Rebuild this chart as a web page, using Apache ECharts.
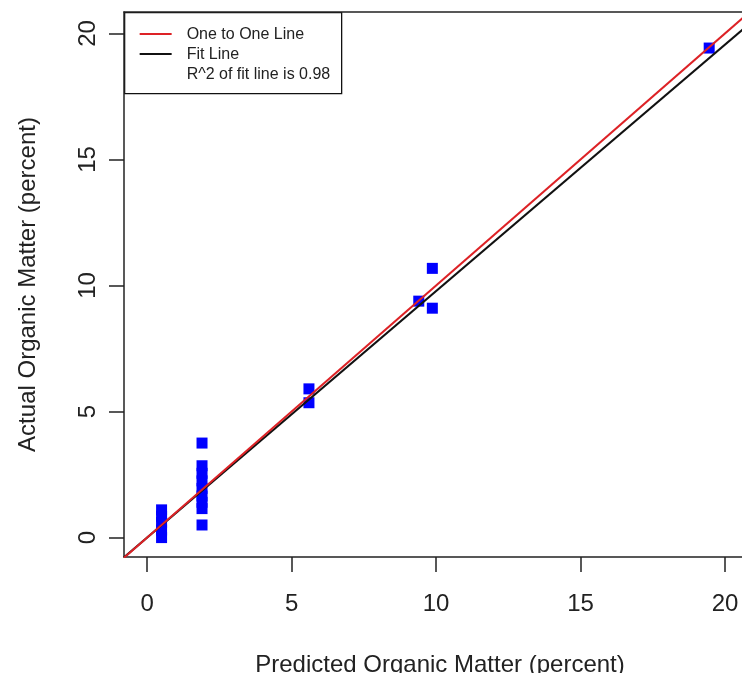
<!DOCTYPE html>
<html>
<head>
<meta charset="utf-8">
<script src="https://cdn.jsdelivr.net/npm/echarts@6/dist/echarts.min.js"></script>
<style>
html,body{margin:0;padding:0;background:#fff;}
#chart{width:742px;height:673px;}
</style>
</head>
<body>
<div id="chart"></div>
<script>
// ---- data ----
var predicted = [0.5, 0.5, 0.5, 0.5, 0.5,
                 1.9, 1.9, 1.9, 1.9, 1.9, 1.9, 1.9, 1.9, 1.9,
                 5.6, 5.6,
                 9.4, 9.87, 9.87,
                 19.45];
var actual    = [0.0, 0.3, 0.6, 0.85, 1.1,
                 3.75, 2.85, 2.55, 2.25, 1.95, 1.65, 1.4, 1.15, 0.5,
                 5.9, 5.35,
                 9.38, 10.68, 9.1,
                 19.42];
var xTicks = [0, 5, 10, 15, 20];
var yTicks = [0, 5, 10, 15, 20];
var fitIntercept = 0.0;
var fitSlope = 0.978;
var rSquared = 0.98;
var xLimits = [-0.8, 21.07];
var yLimits = [-0.77, 20.85];
var legendLabels = ['One to One Line', 'Fit Line', 'R^2 of fit line is ' + rSquared.toFixed(2)];

var points = predicted.map(function (p, i) { return [p, actual[i]]; });
var oneToOne = [[xLimits[0], xLimits[0]], [xLimits[1], xLimits[1]]];
var fitLine = [[xLimits[0], fitIntercept + fitSlope * xLimits[0]],
               [xLimits[1], fitIntercept + fitSlope * xLimits[1]]];

var RED = '#dd2226', BLACK = '#111';
var FONT = 'Liberation Sans, Arial, Helvetica, sans-serif';
var chart = echarts.init(document.getElementById('chart'), null, {renderer: 'canvas'});

// legend box drawn as graphic (R-style legend)
var legendGraphic = {
  type: 'group', left: 124, top: 12, z: 100,
  children: [
    {type: 'rect', shape: {x: 0, y: 0, width: 217, height: 81},
     style: {fill: '#fff', stroke: BLACK, lineWidth: 1.3}},
    {type: 'line', shape: {x1: 15, y1: 21.3, x2: 47, y2: 21.3}, style: {stroke: RED, lineWidth: 2}},
    {type: 'line', shape: {x1: 15, y1: 41.3, x2: 47, y2: 41.3}, style: {stroke: BLACK, lineWidth: 2}},
    {type: 'text', x: 62, y: 21.5, style: {text: legendLabels[0], font: '16px ' + FONT, fill: '#222', verticalAlign: 'middle'}},
    {type: 'text', x: 62, y: 41.8, style: {text: legendLabels[1], font: '16px ' + FONT, fill: '#222', verticalAlign: 'middle'}},
    {type: 'text', x: 62, y: 62, style: {text: legendLabels[2], font: '16px ' + FONT, fill: '#222', verticalAlign: 'middle'}}
  ]
};

chart.setOption({
  animation: false,
  backgroundColor: '#fff',
  grid: {left: 124, top: 12, right: -14, bottom: 116, containLabel: false, outerBoundsMode: 'none'},
  graphic: [legendGraphic],
  xAxis: [{
    type: 'value', min: xLimits[0], max: xLimits[1], position: 'bottom',
    name: 'Predicted Organic Matter (percent)', nameLocation: 'middle', nameGap: 96,
    nameTextStyle: {fontFamily: FONT, fontSize: 24, color: '#222'},
    axisLine: {show: true, onZero: false, lineStyle: {color: '#222', width: 1.5}},
    axisTick: {show: true, inside: false, length: 15, customValues: xTicks, lineStyle: {color: '#222', width: 1.5}},
    axisLabel: {customValues: xTicks, margin: 35, fontFamily: FONT, fontSize: 24, color: '#222'},
    splitLine: {show: false}
  }, {
    type: 'value', min: xLimits[0], max: xLimits[1], position: 'top',
    axisLine: {show: true, onZero: false, lineStyle: {color: '#222', width: 1.5}},
    axisTick: {show: false}, axisLabel: {show: false}, splitLine: {show: false}
  }],
  yAxis: {
    type: 'value', min: yLimits[0], max: yLimits[1],
    name: 'Actual Organic Matter (percent)', nameLocation: 'middle', nameGap: 84,
    nameTextStyle: {fontFamily: FONT, fontSize: 24, color: '#222'},
    axisLine: {show: true, onZero: false, lineStyle: {color: '#222', width: 1.5}},
    axisTick: {show: true, inside: false, length: 15, customValues: yTicks, lineStyle: {color: '#222', width: 1.5}},
    axisLabel: {customValues: yTicks, rotate: 90, margin: 24, fontFamily: FONT, fontSize: 24, color: '#222'},
    splitLine: {show: false}
  },
  series: [
    {
      name: 'points', type: 'scatter', data: points,
      symbol: 'rect', symbolSize: 11,
      itemStyle: {color: '#0000ff', opacity: 1}, z: 2
    },
    {
      name: legendLabels[1], type: 'line', data: fitLine, showSymbol: false, symbol: 'none',
      lineStyle: {color: BLACK, width: 2}, z: 3
    },
    {
      name: legendLabels[0], type: 'line', data: oneToOne, showSymbol: false, symbol: 'none',
      lineStyle: {color: RED, width: 2}, z: 4
    }
  ]
});
</script>
</body>
</html>
